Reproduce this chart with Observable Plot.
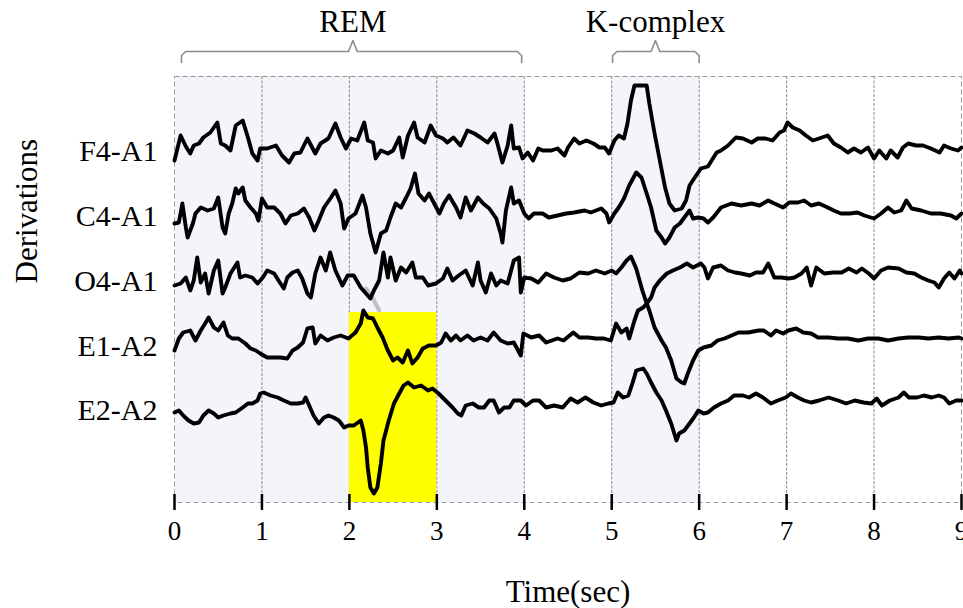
<!DOCTYPE html>
<html>
<head>
<meta charset="utf-8">
<script src="https://cdn.jsdelivr.net/npm/d3@7"></script>
<script src="https://cdn.jsdelivr.net/npm/@observablehq/plot@0.6"></script>
<style>
  html, body { margin: 0; padding: 0; background: #fff; }
  #chart svg { display: block; }
</style>
</head>
<body>
<div id="chart"></div>
<script>
// ---- data -------------------------------------------------------------
const channels = ["F4-A1", "C4-A1", "O4-A1", "E1-A2", "E2-A2"];
const offsets = [259, 194, 129, 64, 0];           // baseline of each derivation (amplitude units)
const timeTicks = [0, 1, 2, 3, 4, 5, 6, 7, 8, 9];  // seconds
const shadedSpans = [[0, 4], [5, 6]];              // seconds
const highlightSpan = [2, 3];                      // seconds (yellow box)
const highlightTop = 98;                           // amplitude units
const annotations = [
  { label: "REM", start: 0.08, end: 3.97, center: 2.04 },
  { label: "K-complex", start: 5.01, end: 6.0, center: 5.5 }
];

// [time (s), amplitude]
const f4A1 = [[0,-9],[0.07,16],[0.13,5],[0.18,-2],[0.22,6],[0.28,8],[0.33,14],[0.41,19],[0.49,29],[0.53,8],[0.58,6],[0.64,1],[0.70,26],[0.78,31],[0.84,14],[0.89,-2],[0.95,-9],[0.98,3],[1.06,3],[1.16,6],[1.23,-4],[1.31,-11],[1.37,-2],[1.44,-1],[1.52,13],[1.61,-2],[1.67,8],[1.76,13],[1.84,28],[1.90,14],[1.96,3],[2.02,13],[2.09,11],[2.17,29],[2.21,11],[2.27,9],[2.30,-7],[2.36,1],[2.44,-2],[2.50,1],[2.57,14],[2.61,-6],[2.67,16],[2.74,29],[2.78,14],[2.86,9],[2.93,26],[2.99,16],[3.07,13],[3.12,9],[3.19,14],[3.27,6],[3.35,21],[3.43,18],[3.50,14],[3.58,9],[3.66,18],[3.69,9],[3.75,-11],[3.81,6],[3.85,26],[3.88,3],[3.94,4],[3.98,-7],[4.04,-1],[4.10,-9],[4.16,3],[4.21,1],[4.31,1],[4.38,3],[4.46,-4],[4.50,4],[4.57,13],[4.63,8],[4.71,11],[4.79,8],[4.86,4],[4.92,4],[4.97,-2],[5.03,11],[5.08,16],[5.14,13],[5.18,28],[5.22,51],[5.26,66],[5.40,66],[5.43,48],[5.49,18],[5.55,-9],[5.61,-36],[5.66,-52],[5.72,-59],[5.80,-57],[5.85,-49],[5.89,-34],[5.95,-26],[6.02,-17],[6.10,-15],[6.20,-1],[6.25,1],[6.33,6],[6.42,14],[6.50,13],[6.60,9],[6.67,13],[6.76,13],[6.84,11],[6.92,19],[6.97,21],[7.01,29],[7.07,24],[7.15,21],[7.22,16],[7.30,11],[7.37,13],[7.47,16],[7.54,8],[7.62,4],[7.70,-1],[7.77,3],[7.85,-1],[7.93,4],[8.00,-7],[8.06,1],[8.14,-7],[8.19,1],[8.27,-6],[8.33,4],[8.39,8],[8.48,6],[8.56,6],[8.65,3],[8.75,-1],[8.80,6],[8.88,3],[8.96,1],[9.00,4]];

const c4A1 = [[0,-7],[0.05,-6],[0.09,13],[0.13,-11],[0.15,-21],[0.21,-7],[0.24,3],[0.30,9],[0.38,6],[0.45,8],[0.50,19],[0.55,-11],[0.58,-17],[0.62,3],[0.66,13],[0.70,28],[0.73,23],[0.78,29],[0.81,16],[0.87,9],[0.93,3],[0.96,-4],[1.00,18],[1.06,9],[1.14,9],[1.21,3],[1.27,-7],[1.33,1],[1.41,3],[1.48,8],[1.54,-1],[1.60,-14],[1.65,-4],[1.71,9],[1.79,19],[1.84,26],[1.90,13],[1.94,-12],[1.99,-2],[2.07,3],[2.15,21],[2.19,9],[2.24,-17],[2.30,-36],[2.36,-17],[2.42,-14],[2.47,-1],[2.53,13],[2.59,9],[2.65,19],[2.70,28],[2.75,43],[2.79,23],[2.86,16],[2.91,23],[2.97,13],[3.03,3],[3.08,13],[3.14,21],[3.22,9],[3.27,-1],[3.33,19],[3.39,6],[3.47,19],[3.53,13],[3.60,8],[3.68,-2],[3.73,-17],[3.75,-26],[3.79,6],[3.85,29],[3.88,13],[3.94,16],[4.00,3],[4.05,-2],[4.11,3],[4.21,3],[4.28,-1],[4.38,1],[4.48,3],[4.57,4],[4.69,6],[4.76,4],[4.88,8],[4.94,3],[4.97,-6],[5.03,3],[5.08,9],[5.14,18],[5.20,31],[5.28,44],[5.34,39],[5.40,23],[5.45,9],[5.51,-14],[5.57,-21],[5.61,-27],[5.66,-21],[5.72,-11],[5.78,-7],[5.83,-1],[5.89,6],[5.93,-2],[5.99,-1],[6.05,-2],[6.10,-6],[6.16,-1],[6.25,9],[6.37,13],[6.48,11],[6.60,13],[6.69,11],[6.79,16],[6.86,13],[6.96,9],[7.03,14],[7.13,14],[7.20,16],[7.28,11],[7.37,13],[7.47,9],[7.54,6],[7.62,3],[7.72,3],[7.81,4],[7.89,1],[8.00,-2],[8.08,3],[8.16,9],[8.23,4],[8.31,6],[8.37,16],[8.43,8],[8.54,6],[8.65,3],[8.76,3],[8.88,1],[8.94,-2],[9.00,3]];

const o4A1 = [[0,-4],[0.07,-2],[0.13,4],[0.18,-9],[0.22,1],[0.26,24],[0.30,-1],[0.35,8],[0.39,-12],[0.45,11],[0.50,21],[0.55,-12],[0.58,-6],[0.64,8],[0.72,19],[0.75,4],[0.81,6],[0.89,4],[0.95,-2],[1.01,4],[1.06,11],[1.14,8],[1.19,1],[1.25,-7],[1.29,4],[1.35,9],[1.41,11],[1.46,3],[1.52,-12],[1.56,-16],[1.61,8],[1.67,24],[1.73,11],[1.78,29],[1.84,11],[1.92,-4],[1.98,6],[2.05,6],[2.13,-6],[2.19,-12],[2.24,-17],[2.28,-9],[2.34,1],[2.39,29],[2.44,4],[2.47,24],[2.53,1],[2.59,14],[2.65,9],[2.72,19],[2.76,4],[2.84,4],[2.90,-4],[2.99,-2],[3.07,3],[3.12,13],[3.18,1],[3.25,6],[3.33,11],[3.41,-4],[3.47,19],[3.50,1],[3.56,-11],[3.62,8],[3.68,-4],[3.73,1],[3.81,-2],[3.88,21],[3.94,24],[3.96,-11],[4.00,4],[4.08,3],[4.16,-1],[4.25,8],[4.34,4],[4.44,1],[4.53,3],[4.63,9],[4.73,8],[4.82,11],[4.92,8],[5.00,11],[5.05,8],[5.11,14],[5.17,21],[5.22,25],[5.28,13],[5.35,-9],[5.40,-22],[5.45,-16],[5.49,-6],[5.55,1],[5.63,8],[5.70,11],[5.78,14],[5.86,18],[5.93,14],[6.02,18],[6.06,14],[6.10,3],[6.16,14],[6.25,16],[6.33,11],[6.41,9],[6.48,8],[6.58,6],[6.65,9],[6.73,9],[6.79,18],[6.86,4],[6.94,4],[7.02,3],[7.09,4],[7.17,8],[7.23,14],[7.28,-4],[7.34,14],[7.43,8],[7.53,9],[7.63,9],[7.71,13],[7.80,9],[7.86,13],[7.94,8],[8.00,3],[8.08,11],[8.16,14],[8.28,13],[8.37,9],[8.46,8],[8.54,4],[8.62,1],[8.69,-1],[8.74,-6],[8.80,3],[8.86,9],[8.92,3],[8.98,11],[9.00,8]];

const e1A2 = [[0,-4],[0.05,8],[0.10,14],[0.18,16],[0.24,6],[0.30,16],[0.35,23],[0.39,29],[0.45,19],[0.50,16],[0.56,24],[0.61,11],[0.66,8],[0.73,8],[0.81,3],[0.87,-2],[0.93,-4],[0.98,-7],[1.06,-11],[1.13,-11],[1.21,-11],[1.29,-12],[1.35,-4],[1.41,-1],[1.47,4],[1.52,18],[1.58,19],[1.61,3],[1.67,11],[1.75,6],[1.82,9],[1.90,11],[1.99,8],[2.07,14],[2.13,23],[2.16,36],[2.21,29],[2.27,28],[2.32,19],[2.38,9],[2.44,-4],[2.50,-14],[2.55,-11],[2.61,-16],[2.67,-4],[2.72,-17],[2.78,-11],[2.84,-2],[2.91,1],[2.99,1],[3.05,4],[3.10,13],[3.16,6],[3.22,11],[3.27,6],[3.35,11],[3.42,6],[3.50,9],[3.58,6],[3.65,14],[3.73,6],[3.81,3],[3.88,4],[3.96,-9],[3.99,13],[4.08,9],[4.17,11],[4.25,4],[4.38,8],[4.45,6],[4.56,14],[4.63,9],[4.73,9],[4.82,8],[4.91,8],[4.99,6],[5.05,23],[5.11,14],[5.17,18],[5.20,8],[5.26,26],[5.30,36],[5.36,39],[5.40,43],[5.43,36],[5.49,19],[5.57,6],[5.62,-1],[5.68,-14],[5.74,-32],[5.80,-36],[5.83,-37],[5.87,-27],[5.93,-14],[5.99,-4],[6.05,-1],[6.14,1],[6.21,6],[6.29,8],[6.37,11],[6.45,14],[6.56,14],[6.68,16],[6.74,16],[6.82,11],[6.88,16],[6.96,13],[7.02,16],[7.11,18],[7.19,14],[7.28,13],[7.36,9],[7.48,9],[7.59,8],[7.70,8],[7.82,6],[7.93,8],[8.05,8],[8.16,6],[8.28,8],[8.39,9],[8.51,9],[8.62,8],[8.74,9],[8.85,8],[8.97,9],[9.00,8]];

const e2A2 = [[0,-2],[0.05,0],[0.10,-5],[0.16,-10],[0.22,-13],[0.28,-12],[0.33,-5],[0.39,0],[0.45,-3],[0.50,-7],[0.56,-5],[0.64,-3],[0.70,-2],[0.78,3],[0.84,7],[0.89,7],[0.95,10],[0.98,17],[1.02,18],[1.10,15],[1.18,13],[1.25,10],[1.33,7],[1.41,7],[1.47,8],[1.50,13],[1.53,7],[1.59,-5],[1.65,-13],[1.71,-7],[1.76,-5],[1.82,-7],[1.88,-10],[1.94,-17],[1.99,-15],[2.05,-15],[2.13,-10],[2.16,-20],[2.19,-37],[2.21,-57],[2.24,-77],[2.28,-83],[2.32,-77],[2.36,-53],[2.39,-30],[2.45,-10],[2.51,7],[2.57,17],[2.62,25],[2.67,28],[2.74,23],[2.82,25],[2.90,20],[2.95,22],[3.02,17],[3.10,10],[3.18,3],[3.24,-3],[3.28,-5],[3.33,5],[3.41,7],[3.48,3],[3.54,3],[3.60,10],[3.65,10],[3.71,-2],[3.77,3],[3.83,3],[3.88,10],[3.96,10],[4.02,5],[4.10,10],[4.17,10],[4.25,3],[4.34,5],[4.44,3],[4.53,12],[4.61,8],[4.70,13],[4.79,8],[4.88,5],[4.96,7],[5.02,8],[5.07,18],[5.13,13],[5.19,15],[5.24,28],[5.28,40],[5.36,42],[5.40,37],[5.45,28],[5.51,18],[5.57,10],[5.62,0],[5.68,-13],[5.74,-30],[5.77,-23],[5.83,-20],[5.89,-13],[5.94,-7],[5.99,0],[6.05,-3],[6.10,-2],[6.17,3],[6.25,7],[6.33,10],[6.40,15],[6.50,15],[6.57,13],[6.65,17],[6.73,13],[6.82,7],[6.90,10],[6.99,13],[7.05,17],[7.13,13],[7.20,10],[7.28,8],[7.37,10],[7.48,13],[7.59,10],[7.68,7],[7.78,10],[7.88,8],[7.97,7],[8.03,12],[8.09,5],[8.18,10],[8.28,13],[8.34,18],[8.40,13],[8.49,13],[8.57,15],[8.66,13],[8.74,15],[8.80,13],[8.86,7],[8.94,10],[9.00,10]];

// faint grey stroke seen between O4-A1 and E1-A2 just right of t = 2 s
const ghostStroke = [[2.19, 122], [2.27, 112], [2.34, 100]];

const series = [f4A1, c4A1, o4A1, e1A2, e2A2];

// ---- build tables -----------------------------------------------------
const traces = series.flatMap((pts, i) =>
  pts.map(([t, a]) => ({ channel: channels[i], t, v: offsets[i] + a }))
);

const yLo = -92, yHi = 334;                 // vertical extent of the frame
const bracketBase = 348, bracketMid = 359, bracketTip = 370;
const brackets = annotations.flatMap(({ label, start, end, center }) => [
  { label, x: start, y: bracketBase },
  { label, x: start, y: bracketMid - 4 },
  { label, x: start + 0.05, y: bracketMid },
  { label, x: center - 0.05, y: bracketMid },
  { label, x: center, y: bracketTip },
  { label, x: center + 0.05, y: bracketMid },
  { label, x: end - 0.05, y: bracketMid },
  { label, x: end, y: bracketMid - 4 },
  { label, x: end, y: bracketBase }
]);

const serif = "'Liberation Serif', 'Times New Roman', Times, serif";

const chart = Plot.plot({
  width: 963,
  height: 608,
  marginLeft: 174,
  marginRight: 2,
  marginTop: 76,
  marginBottom: 106,
  style: { fontFamily: serif, color: "#000", background: "#fff", overflow: "visible" },
  x: { domain: [0, 9], axis: null },
  y: { domain: [yLo, yHi], axis: null },
  marks: [
    Plot.rect(shadedSpans, { x1: d => d[0], x2: d => d[1], y1: yLo, y2: yHi, fill: "#f4f5fb" }),
    Plot.ruleX(timeTicks.slice(1, -1), { stroke: "#8a8a8a", strokeWidth: 1, strokeDasharray: "3,1.5" }),
    Plot.rect([highlightSpan], { x1: d => d[0], x2: d => d[1], y1: yLo, y2: highlightTop, fill: "#ffff00" }),
    Plot.frame({ stroke: "#9a9a9a", strokeWidth: 1, strokeDasharray: "5,3" }),
    Plot.line(ghostStroke, { x: d => d[0], y: d => d[1], stroke: "#b4b4b4", strokeWidth: 4, strokeOpacity: 0.8 }),
    Plot.line(traces, {
      x: "t", y: "v", z: "channel",
      stroke: "#000", strokeWidth: 3.9, strokeLinejoin: "round", strokeLinecap: "round"
    }),
    Plot.ruleX(timeTicks, { y1: yLo + 8, y2: yLo - 8, stroke: "#000", strokeWidth: 2.5 }),
    Plot.axisX(timeTicks, { tickSize: 0, tickPadding: 18, fontSize: 27, label: null, fill: "#000" }),
    Plot.axisY(offsets, {
      tickSize: 0, tickPadding: 17, fontSize: 30, label: null, fill: "#000",
      tickFormat: d => channels[offsets.indexOf(d)]
    }),
    Plot.line(brackets, { x: "x", y: "y", z: "label", stroke: "#8c8c8c", strokeWidth: 1.6, curve: "linear" }),
    Plot.text(annotations, { x: "center", y: 388, text: "label", fontSize: 31, lineAnchor: "middle", fill: "#000" }),
    Plot.text(["Time(sec)"], { x: 4.5, y: -182, text: d => d, fontSize: 31, lineAnchor: "middle", fill: "#000" }),
    Plot.text(["Derivations"], {
      frameAnchor: "left", y: 127, dx: -147, text: d => d, rotate: -90,
      fontSize: 31, lineAnchor: "middle", fill: "#000"
    })
  ]
});

document.getElementById("chart").append(chart);
</script>
</body>
</html>
